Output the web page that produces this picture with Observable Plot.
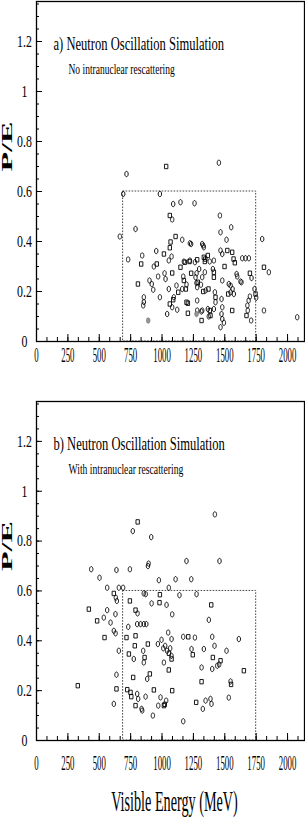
<!DOCTYPE html>
<html><head><meta charset="utf-8">
<script src="https://cdn.jsdelivr.net/npm/d3@7"></script>
<script src="https://cdn.jsdelivr.net/npm/@observablehq/plot@0.6"></script>
<style>html,body{margin:0;padding:0;background:#fff;} svg{display:block}</style>
</head><body><div id="chart"></div>
<script>
const xTickValues = [0,250,500,750,1000,1250,1500,1750,2000];
const yTickValues = [0,0.2,0.4,0.6,0.8,1,1.2];
const cutEnergy = [690, 1750];
const cutPE = 0.6;
const titleA = "a) Neutron Oscillation Simulation";
const subtitleA = "No intranuclear rescattering";
const titleB = "b) Neutron Oscillation Simulation";
const subtitleB = "With intranuclear rescattering";
const yLabel = "P/E";
const xLabel = "Visible Energy (MeV)";

// [visible energy (MeV), P/E, marker]
const pointsA = [
[717,0.67,"o"],[1033,0.70,"s"],[1453,0.715,"o"],[691,0.59,"o"],[983,0.59,"o"],
[1089,0.55,"o"],[1147,0.557,"o"],[1259,0.553,"o"],[1062,0.504,"s"],[1081,0.488,"o"],
[789,0.45,"o"],[664,0.42,"o"],[1461,0.504,"o"],[1551,0.457,"o"],[1466,0.437,"o"],[1514,0.407,"o"],[1798,0.41,"o"],
[730,0.328,"o"],[834,0.31,"s"],[842,0.344,"o"],[808,0.23,"s"],[855,0.177,"o"],[855,0.158,"o"],[850,0.144,"o"],[890,0.084,"f"],
[900,0.244,"o"],[918,0.23,"o"],[930,0.207,"o"],[935,0.30,"o"],[954,0.362,"o"],[958,0.31,"s"],[969,0.26,"o"],[983,0.177,"o"],
[1015,0.35,"s"],[1020,0.273,"o"],[1028,0.25,"o"],[1041,0.11,"o"],[1054,0.324,"o"],[1062,0.375,"s"],[1068,0.398,"s"],[1108,0.42,"s"],[1076,0.34,"o"],
[1054,0.21,"o"],[1062,0.15,"s"],[1081,0.137,"o"],[1094,0.177,"o"],[1089,0.167,"s"],[1081,0.274,"s"],[1115,0.224,"o"],[1129,0.197,"s"],[1121,0.127,"o"],
[1161,0.407,"o"],[1147,0.297,"s"],[1169,0.26,"o"],[1161,0.21,"o"],[1182,0.317,"s"],[1174,0.32,"o"],[1190,0.21,"s"],[1174,0.244,"s"],[1195,0.228,"o"],
[1206,0.153,"s"],[1206,0.113,"s"],[1195,0.157,"s"],[1222,0.393,"o"],[1232,0.39,"o"],[1222,0.324,"o"],[1232,0.273,"s"],[1219,0.32,"s"],
[1262,0.317,"o"],[1267,0.257,"o"],[1275,0.234,"o"],[1285,0.237,"s"],[1280,0.217,"o"],[1280,0.164,"o"],[1280,0.124,"o"],[1275,0.11,"f"],[1280,0.327,"s"],[1275,0.273,"o"],
[1296,0.29,"o"],[1310,0.227,"o"],[1313,0.12,"o"],[1320,0.39,"o"],[1328,0.384,"o"],[1333,0.377,"o"],[1320,0.124,"o"],[1315,0.084,"s"],
[1333,0.337,"s"],[1345,0.33,"s"],[1341,0.32,"s"],[1365,0.344,"s"],[1380,0.32,"o"],[1347,0.204,"o"],[1370,0.21,"s"],[1328,0.2,"s"],[1341,0.277,"o"],[1320,0.257,"o"],
[1381,0.124,"s"],[1373,0.10,"o"],[1365,0.13,"o"],[1386,0.104,"s"],[1413,0.324,"o"],[1405,0.29,"o"],[1413,0.277,"s"],[1413,0.257,"s"],[1421,0.197,"o"],[1426,0.177,"s"],[1426,0.157,"o"],[1413,0.13,"o"],
[1466,0.364,"o"],[1480,0.35,"o"],[1480,0.244,"o"],[1474,0.17,"o"],[1480,0.137,"o"],[1474,0.11,"o"],[1480,0.09,"o"],[1466,0.057,"o"],[1493,0.075,"o"],
[1520,0.364,"s"],[1559,0.357,"s"],[1570,0.33,"s"],[1580,0.315,"s"],[1498,0.30,"s"],[1546,0.224,"o"],[1562,0.21,"o"],[1546,0.197,"o"],[1527,0.19,"s"],[1559,0.124,"s"],[1532,0.23,"o"],[1572,0.19,"o"],
[1599,0.26,"o"],[1625,0.24,"o"],[1639,0.333,"o"],[1665,0.333,"o"],[1692,0.333,"o"],[1700,0.273,"s"],[1713,0.254,"o"],[1594,0.27,"o"],[1633,0.237,"o"],
[1673,0.104,"s"],[1683,0.124,"o"],[1680,0.144,"o"],[1690,0.164,"o"],[1700,0.18,"o"],[1710,0.084,"o"],[1737,0.21,"o"],[1745,0.19,"s"],[1750,0.175,"o"],
[1812,0.297,"s"],[1851,0.277,"o"],[1812,0.124,"o"],[2077,0.097,"o"]
];

const pointsB = [
[436,0.687,"o"],[502,0.653,"o"],[563,0.613,"o"],[637,0.684,"o"],[656,0.613,"o"],[690,0.613,"o"],[744,0.687,"o"],[767,0.84,"o"],[806,0.877,"s"],
[888,0.70,"o"],[893,0.71,"o"],[914,0.816,"o"],[975,0.643,"o"],[1054,0.613,"o"],[1108,0.647,"o"],[1195,0.72,"o"],[1233,0.647,"o"],[1421,0.907,"o"],[1458,0.72,"o"],
[616,0.59,"s"],[632,0.573,"o"],[640,0.56,"o"],[855,0.59,"o"],[870,0.587,"o"],[983,0.585,"s"],[980,0.553,"s"],[744,0.56,"s"],[917,0.55,"o"],[1036,0.544,"o"],[1139,0.583,"o"],[1275,0.587,"o"],[1392,0.544,"s"],
[417,0.527,"s"],[563,0.523,"o"],[536,0.493,"o"],[483,0.48,"s"],[590,0.473,"o"],[629,0.507,"o"],[789,0.523,"s"],[805,0.51,"o"],[1081,0.506,"o"],
[731,0.456,"o"],[802,0.467,"o"],[829,0.467,"o"],[855,0.467,"o"],[875,0.467,"o"],[1373,0.484,"o"],
[542,0.413,"s"],[616,0.44,"o"],[630,0.43,"o"],[656,0.36,"o"],[717,0.413,"s"],[789,0.42,"s"],[783,0.38,"s"],[736,0.347,"s"],[775,0.327,"o"],
[850,0.36,"o"],[861,0.333,"s"],[855,0.313,"o"],[887,0.387,"s"],[967,0.387,"o"],[996,0.404,"o"],[1010,0.37,"o"],[1025,0.38,"o"],[1040,0.36,"o"],[1055,0.35,"s"],[1065,0.37,"o"],[1075,0.34,"o"],[1049,0.433,"o"],[1076,0.407,"o"],[1076,0.327,"s"],[1015,0.313,"o"],[1054,0.283,"s"],
[1169,0.416,"o"],[1209,0.416,"s"],[1262,0.413,"o"],[1235,0.367,"o"],[1245,0.344,"s"],[1333,0.367,"o"],[1315,0.293,"o"],[1400,0.416,"o"],[1418,0.38,"o"],[1405,0.333,"s"],[1400,0.287,"o"],[1440,0.3,"o"],[1455,0.305,"o"],[1466,0.32,"s"],[1514,0.36,"o"],[1612,0.407,"o"],[1652,0.28,"s"],
[637,0.264,"o"],[637,0.207,"s"],[616,0.147,"o"],[329,0.22,"s"],
[723,0.204,"s"],[749,0.193,"s"],[770,0.253,"s"],[802,0.187,"o"],[810,0.167,"o"],[755,0.176,"s"],[789,0.14,"s"],[837,0.127,"o"],[842,0.12,"o"],[869,0.176,"o"],[882,0.247,"o"],[903,0.267,"s"],[935,0.203,"s"],
[927,0.1,"o"],[970,0.14,"o"],[988,0.173,"o"],[1015,0.14,"s"],[1022,0.145,"s"],[1033,0.16,"o"],[1081,0.2,"s"],[1169,0.077,"o"],
[1272,0.153,"s"],[1325,0.127,"o"],[1347,0.16,"o"],[1386,0.167,"o"],[1394,0.147,"o"],[1315,0.236,"s"],[1546,0.237,"o"],[1550,0.225,"s"],[1532,0.172,"o"]
];

const oval = {draw(c){const rx=1.7, ry=2.7, k=0.5523;
  c.moveTo(rx,0); c.bezierCurveTo(rx,ry*k,rx*k,ry,0,ry); c.bezierCurveTo(-rx*k,ry,-rx,ry*k,-rx,0);
  c.bezierCurveTo(-rx,-ry*k,-rx*k,-ry,0,-ry); c.bezierCurveTo(rx*k,-ry,rx,-ry*k,rx,0); c.closePath();}};
const box = {draw(c){c.moveTo(-1.7,-2.2); c.lineTo(1.7,-2.2); c.lineTo(1.7,2.2); c.lineTo(-1.7,2.2); c.closePath();}};

const squeezeMap = {
  "x-axis tick label": [0.4, 1],
  "y-axis tick label": [0.72, 1],
  [titleA]: [0.645, 1], [titleB]: [0.645, 1],
  [subtitleA]: [0.68, 1], [subtitleB]: [0.69, 1],
  [yLabel]: [2.0, 0.95], [xLabel]: [0.49, 1]
};

function squeeze(svg) {
  svg.querySelectorAll("text").forEach(t => {
    const key = t.parentNode.getAttribute("aria-label");
    const s = squeezeMap[t.textContent] || squeezeMap[key];
    if (!s) return;
    const tr = t.getAttribute("transform") || "";
    t.setAttribute("transform", tr + ` scale(${s[0]},${s[1]})`);
  });
  return svg;
}

function panel(points, title, subtitle, opts) {
  const data = points.map(([e, pe, m]) => ({e, pe, m}));
  const minorX = d3.range(0, 2135, 250/3);
  const minorY = d3.range(0, 1.36, 0.05);
  const marks = [
    Plot.rect([cutEnergy], {x1: d => d[0], x2: d => d[1], y1: () => 0, y2: () => cutPE,
      fill: "none", stroke: "#444", strokeWidth: 1, strokeDasharray: "1.6,1.4"}),
    Plot.dot(data.filter(d => d.m === "o"), {x: "e", y: "pe", symbol: oval, r: 3, stroke: "black", strokeWidth: 0.9, fill: "none"}),
    Plot.dot(data.filter(d => d.m === "s"), {x: "e", y: "pe", symbol: box, r: 3, stroke: "black", strokeWidth: 0.9, fill: "none"}),
    Plot.dot(data.filter(d => d.m === "f"), {x: "e", y: "pe", symbol: oval, r: 3, stroke: "#777", strokeWidth: 0.9, fill: "#999"}),
    Plot.frame({stroke: "black", strokeWidth: 1.3}),
    Plot.axisX({ticks: minorX, tickSize: 4, dy: -4, fill: "none", label: null}),
    Plot.axisX({ticks: xTickValues, tickSize: 7, dy: -7, fill: "none", label: null}),
    Plot.axisX({ticks: xTickValues, tickSize: 0, tickPadding: opts.tickPad, fontSize: 22, tickFormat: d => String(d), label: null}),
    Plot.axisY({ticks: minorY, tickSize: 3, dx: 3, fill: "none", label: null}),
    Plot.axisY({ticks: yTickValues, tickSize: 6, dx: 6, fill: "none", label: null}),
    Plot.axisY({ticks: yTickValues, tickSize: 0, tickPadding: 12, textAnchor: "middle", fontSize: 16.5,
      tickFormat: d => String(+d.toFixed(2)), label: null}),
    Plot.text([title], {frameAnchor: "top-left", textAnchor: "start", lineAnchor: "bottom", dx: 17, dy: 48, fontSize: 19.5}),
    Plot.text([subtitle], {frameAnchor: "top-left", textAnchor: "start", lineAnchor: "bottom", dx: 32, dy: 72, fontSize: 14}),
    Plot.text([yLabel], {frameAnchor: "left", rotate: -90, dx: -29, fontSize: 16, fontWeight: "bold"})
  ];
  if (opts.xLabel) marks.push(Plot.text([opts.xLabel], {frameAnchor: "bottom", lineAnchor: "bottom", dx: 4, dy: 70, fontSize: 29}));
  return squeeze(Plot.plot({
    width: 305, height: opts.height,
    marginLeft: 36, marginRight: 1, marginTop: 1, marginBottom: opts.marginBottom,
    style: {fontFamily: "'Liberation Serif', 'DejaVu Serif', serif", background: "white", color: "black", overflow: "visible"},
    x: {domain: [0, 2135]},
    y: {domain: [0, 1.36]},
    marks
  }));
}

const root = document.getElementById("chart");
root.append(panel(pointsA, titleA, subtitleA, {height: 400, marginBottom: 59, tickPad: 5}));
root.append(panel(pointsB, titleB, subtitleB, {height: 420, marginBottom: 80, tickPad: 14, xLabel}));
</script>
</body></html>
